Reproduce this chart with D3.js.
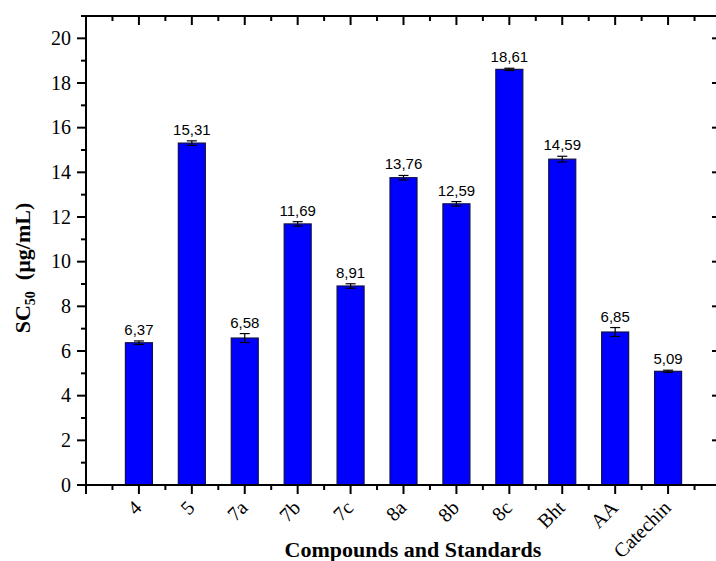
<!DOCTYPE html>
<html>
<head>
<meta charset="utf-8">
<script src="https://cdn.jsdelivr.net/npm/d3@7"></script>
<style>
  body { margin: 0; background: #fff; }
  svg { display: block; }
  .tick-label { font-family: "Liberation Serif", "Times New Roman", serif; font-size: 20px; fill: #000; }
  .val-label { font-family: "Liberation Sans", Arial, sans-serif; font-size: 15px; fill: #000; }
  .title { font-family: "Liberation Serif", "Times New Roman", serif; font-weight: bold; font-size: 22px; fill: #000; }
</style>
</head>
<body>
<div id="chart"></div>
<script>
// data
var categories = ["4", "5", "7a", "7b", "7c", "8a", "8b", "8c", "Bht", "AA", "Catechin"];
var values = [6.37, 15.31, 6.58, 11.69, 8.91, 13.76, 12.59, 18.61, 14.59, 6.85, 5.09];
var errors = [0.08, 0.1, 0.2, 0.1, 0.1, 0.1, 0.1, 0.05, 0.13, 0.2, 0.05];
var yMajor = [0, 2, 4, 6, 8, 10, 12, 14, 16, 18, 20];

var W = 716, H = 561;
var margin = {top: 16, right: -5, bottom: 76, left: 86},
    width = W - margin.left - margin.right,
    height = H - margin.top - margin.bottom;

var svg = d3.select("#chart").append("svg")
    .attr("width", W)
    .attr("height", H);

var g = svg.append("g")
    .attr("transform", "translate(" + margin.left + "," + margin.top + ")");

var x = d3.scaleLinear().domain([0, categories.length + 1]).range([0, width]);
var y = d3.scaleLinear().domain([0, 21]).range([height, 0]);

var data = categories.map(function(c, i) {
    return {name: c, pos: i + 1, value: values[i], err: errors[i]};
});

var barW = 27;

// bars
g.selectAll("rect.bar")
    .data(data)
    .enter()
    .append("rect")
    .attr("class", "bar")
    .attr("x", function(d) { return x(d.pos) - barW / 2; })
    .attr("y", function(d) { return y(d.value); })
    .attr("width", barW)
    .attr("height", function(d) { return height - y(d.value); })
    .style("fill", "#0000ff")
    .style("stroke", "#10104a")
    .style("stroke-width", 1.2);

// error bars
var eb = g.selectAll("g.err").data(data).enter().append("g").attr("class", "err");
eb.append("line")
    .attr("x1", function(d) { return x(d.pos); })
    .attr("x2", function(d) { return x(d.pos); })
    .attr("y1", function(d) { return y(d.value - d.err); })
    .attr("y2", function(d) { return y(d.value + d.err); });
eb.append("line")
    .attr("x1", function(d) { return x(d.pos) - 5; })
    .attr("x2", function(d) { return x(d.pos) + 5; })
    .attr("y1", function(d) { return y(d.value + d.err); })
    .attr("y2", function(d) { return y(d.value + d.err); });
eb.append("line")
    .attr("x1", function(d) { return x(d.pos) - 5; })
    .attr("x2", function(d) { return x(d.pos) + 5; })
    .attr("y1", function(d) { return y(d.value - d.err); })
    .attr("y2", function(d) { return y(d.value - d.err); });
eb.selectAll("line").style("stroke", "#000").style("stroke-width", 1.2);

// value labels
g.selectAll("text.val-label")
    .data(data)
    .enter()
    .append("text")
    .attr("class", "val-label")
    .attr("x", function(d) { return x(d.pos); })
    .attr("y", function(d) { return y(d.value + d.err) - 6; })
    .attr("text-anchor", "middle")
    .text(function(d) { return d.value.toFixed(2).replace(".", ","); });

// axes
var xMajor = d3.range(0, categories.length + 2);
var xMinor = d3.range(0.5, categories.length + 1, 1);
var yMinor = d3.range(1, 22, 2);

function tickLines(sel, vals, scale, horiz, base, len) {
    sel.selectAll(null).data(vals).enter().append("line")
        .attr("x1", function(d) { return horiz ? scale(d) : base; })
        .attr("x2", function(d) { return horiz ? scale(d) : base + len; })
        .attr("y1", function(d) { return horiz ? base : scale(d); })
        .attr("y2", function(d) { return horiz ? base + len : scale(d); })
        .style("stroke", "#000")
        .style("stroke-width", 2);
}

var ax = g.append("g").attr("class", "axes");

// bottom: outward
tickLines(ax, xMajor, x, true, height, 9);
tickLines(ax, xMinor, x, true, height, 5);
// top: inward
tickLines(ax, xMajor, x, true, 0, 9);
tickLines(ax, xMinor, x, true, 0, 5);
// left: outward
tickLines(ax, yMajor, y, false, 0, -9);
tickLines(ax, yMinor, y, false, 0, -5);
// right: inward
tickLines(ax, yMajor, y, false, width, -9);
tickLines(ax, yMinor, y, false, width, -5);

// frame lines
ax.append("line").attr("x1", 0).attr("x2", width).attr("y1", height).attr("y2", height);
ax.append("line").attr("x1", 0).attr("x2", width).attr("y1", 0).attr("y2", 0);
ax.append("line").attr("x1", 0).attr("x2", 0).attr("y1", 0).attr("y2", height);
ax.append("line").attr("x1", width).attr("x2", width).attr("y1", 0).attr("y2", height);
ax.selectAll("line").style("stroke", "#000").style("stroke-width", 2);

// y tick labels
g.selectAll("text.ylab")
    .data(yMajor)
    .enter()
    .append("text")
    .attr("class", "tick-label ylab")
    .attr("x", -15)
    .attr("y", function(d) { return y(d); })
    .attr("dy", "0.34em")
    .attr("text-anchor", "end")
    .text(function(d) { return d; });

// x category labels, slanted
g.selectAll("text.xlab")
    .data(data)
    .enter()
    .append("text")
    .attr("class", "tick-label xlab")
    .attr("text-anchor", "end")
    .attr("transform", function(d) {
        return "translate(" + (x(d.pos) + 4) + "," + (height + 24) + ") rotate(-45)";
    })
    .text(function(d) { return d.name; });

// axis titles
svg.append("text")
    .attr("class", "title")
    .attr("x", 413)
    .attr("y", 557)
    .attr("text-anchor", "middle")
    .text("Compounds and Standards");

var yt = svg.append("text")
    .attr("class", "title")
    .attr("text-anchor", "middle")
    .attr("transform", "translate(30,268) rotate(-90)");
yt.append("tspan").text("SC");
yt.append("tspan").attr("font-size", "14px").attr("dy", 5).text("50");
yt.append("tspan").attr("dy", -5).text("\u00a0 (µg/mL)");
</script>
</body>
</html>
